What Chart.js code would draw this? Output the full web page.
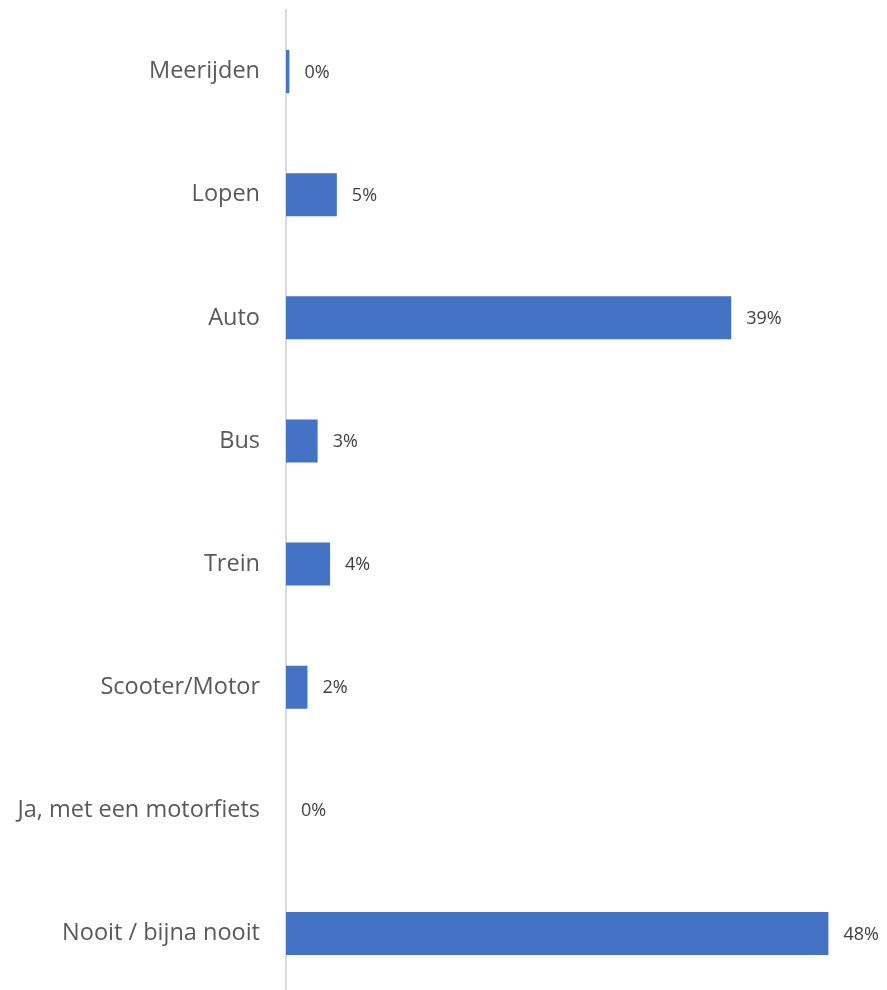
<!DOCTYPE html>
<html>
<head>
<meta charset="utf-8">
<script src="https://cdn.jsdelivr.net/npm/chart.js@4/dist/chart.umd.min.js"></script>
<style>
  html, body { margin: 0; padding: 0; background: #fff; overflow: hidden; }
</style>
</head>
<body>
<canvas id="chart" width="887" height="995"></canvas>
<script>
const categories = ['Meerijden', 'Lopen', 'Auto', 'Bus', 'Trein', 'Scooter/Motor', 'Ja, met een motorfiets', 'Nooit / bijna nooit']
const values = [0.3, 4.5, 39.4, 2.8, 3.9, 1.9, 0, 48.0]

// draws the "xx%" labels next to each bar
const barLabels = {
  id: 'barLabels',
  afterDatasetsDraw(chart) {
    const ctx = chart.ctx
    const meta = chart.getDatasetMeta(0)
    ctx.save()
    ctx.font = '18px "Open Sans"'
    ctx.fillStyle = '#404040'
    ctx.textAlign = 'left'
    ctx.textBaseline = 'middle'
    meta.data.forEach((bar, i) => {
      ctx.fillText(Math.round(values[i]) + '%', bar.x + 15, bar.y + 1)
    })
    ctx.restore()
  }
}

new Chart(document.getElementById('chart'), {
  type: 'bar',
  data: {
    labels: categories,
    datasets: [{
      data: values,
      backgroundColor: '#4472C4',
      borderWidth: 0,
      categoryPercentage: 1,
      barPercentage: 0.35
    }]
  },
  options: {
    indexAxis: 'y',
    responsive: false,
    animation: false,
    devicePixelRatio: 1,
    layout: { padding: { top: 10, right: 36, bottom: 0, left: 0 } },
    plugins: {
      legend: { display: false },
      tooltip: { enabled: false }
    },
    scales: {
      x: {
        display: false,
        min: 0,
        max: 50
      },
      y: {
        afterFit: (scale) => {
          scale.width = 286
          scale.paddingTop = 0
          scale.paddingBottom = 0
        },
        grid: { display: false, drawTicks: false },
        border: { display: true, color: '#d9d9d9', width: 2 },
        ticks: {
          padding: 26,
          color: '#595959',
          font: { family: 'Open Sans', size: 23.5 }
        }
      }
    }
  },
  plugins: [barLabels]
})
</script>
</body>
</html>
